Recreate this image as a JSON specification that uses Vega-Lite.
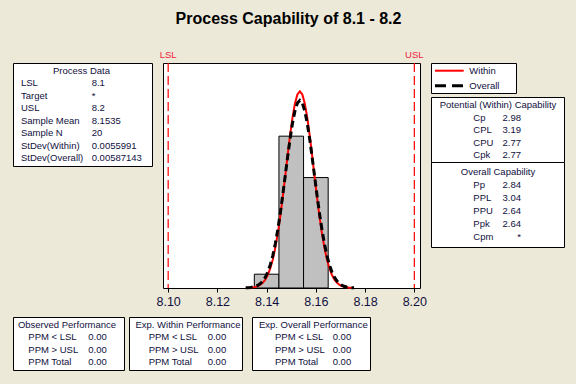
{
  "$schema": "https://vega.github.io/schema/vega-lite/v6.json",
  "background": "#ECE9D8",
  "padding": {"left": 12, "top": 10, "right": 13, "bottom": 16},
  "title": {"text": "Process Capability of 8.1 - 8.2", "fontSize": 16, "fontWeight": "bold", "font": "Liberation Sans", "color": "#000000", "anchor": "middle", "offset": 23},
  "datasets": {
    "hist": [
      {"start": 8.135, "end": 8.145, "count": 1},
      {"start": 8.145, "end": 8.155, "count": 11},
      {"start": 8.155, "end": 8.165, "count": 8}
    ],
    "curve": [
      {"x": 8.1315, "w": 0.006, "o": 0.012},
      {"x": 8.1325, "w": 0.013, "o": 0.022},
      {"x": 8.1335, "w": 0.024, "o": 0.042},
      {"x": 8.1345, "w": 0.046, "o": 0.072},
      {"x": 8.1355, "w": 0.082, "o": 0.124},
      {"x": 8.1365, "w": 0.142, "o": 0.206},
      {"x": 8.1375, "w": 0.240, "o": 0.332},
      {"x": 8.1385, "w": 0.394, "o": 0.520},
      {"x": 8.1395, "w": 0.626, "o": 0.792},
      {"x": 8.1405, "w": 0.962, "o": 1.172},
      {"x": 8.1415, "w": 1.434, "o": 1.684},
      {"x": 8.1425, "w": 2.068, "o": 2.350},
      {"x": 8.1435, "w": 2.892, "o": 3.188},
      {"x": 8.1445, "w": 3.916, "o": 4.198},
      {"x": 8.1455, "w": 5.134, "o": 5.372},
      {"x": 8.1465, "w": 6.522, "o": 6.678},
      {"x": 8.1475, "w": 8.026, "o": 8.062},
      {"x": 8.1485, "w": 9.564, "o": 9.458},
      {"x": 8.1495, "w": 11.040, "o": 10.776},
      {"x": 8.1505, "w": 12.344, "o": 11.928},
      {"x": 8.1515, "w": 13.370, "o": 12.824},
      {"x": 8.1525, "w": 14.024, "o": 13.394},
      {"x": 8.1535, "w": 14.250, "o": 13.590},
      {"x": 8.1545, "w": 14.024, "o": 13.394},
      {"x": 8.1555, "w": 13.370, "o": 12.824},
      {"x": 8.1565, "w": 12.344, "o": 11.928},
      {"x": 8.1575, "w": 11.040, "o": 10.776},
      {"x": 8.1585, "w": 9.564, "o": 9.458},
      {"x": 8.1595, "w": 8.026, "o": 8.062},
      {"x": 8.1605, "w": 6.522, "o": 6.678},
      {"x": 8.1615, "w": 5.134, "o": 5.372},
      {"x": 8.1625, "w": 3.916, "o": 4.198},
      {"x": 8.1635, "w": 2.892, "o": 3.188},
      {"x": 8.1645, "w": 2.068, "o": 2.350},
      {"x": 8.1655, "w": 1.434, "o": 1.684},
      {"x": 8.1665, "w": 0.962, "o": 1.172},
      {"x": 8.1675, "w": 0.626, "o": 0.792},
      {"x": 8.1685, "w": 0.394, "o": 0.520},
      {"x": 8.1695, "w": 0.240, "o": 0.332},
      {"x": 8.1705, "w": 0.142, "o": 0.206},
      {"x": 8.1715, "w": 0.082, "o": 0.124},
      {"x": 8.1725, "w": 0.046, "o": 0.072},
      {"x": 8.1735, "w": 0.024, "o": 0.042},
      {"x": 8.1745, "w": 0.013, "o": 0.022},
      {"x": 8.1755, "w": 0.006, "o": 0.012}
    ],
    "limits": [{"limit": "LSL", "x": 8.1}, {"limit": "USL", "x": 8.2}],
    "pd": [
      {"row": 0, "label": "Process Data", "value": ""},
      {"row": 1, "label": "LSL", "value": "8.1"},
      {"row": 2, "label": "Target", "value": "*"},
      {"row": 3, "label": "USL", "value": "8.2"},
      {"row": 4, "label": "Sample Mean", "value": "8.1535"},
      {"row": 5, "label": "Sample N", "value": "20"},
      {"row": 6, "label": "StDev(Within)", "value": "0.0055991"},
      {"row": 7, "label": "StDev(Overall)", "value": "0.00587143"}
    ],
    "pot": [
      {"row": 0, "label": "Potential (Within) Capability", "value": ""},
      {"row": 1, "label": "Cp", "value": "2.98"},
      {"row": 2, "label": "CPL", "value": "3.19"},
      {"row": 3, "label": "CPU", "value": "2.77"},
      {"row": 4, "label": "Cpk", "value": "2.77"}
    ],
    "ovr": [
      {"row": 0, "label": "Overall Capability", "value": ""},
      {"row": 1, "label": "Pp", "value": "2.84"},
      {"row": 2, "label": "PPL", "value": "3.04"},
      {"row": 3, "label": "PPU", "value": "2.64"},
      {"row": 4, "label": "Ppk", "value": "2.64"},
      {"row": 5, "label": "Cpm", "value": "*"}
    ],
    "obs": [
      {"row": 0, "label": "Observed Performance", "value": ""},
      {"row": 1, "label": "PPM < LSL", "value": "0.00"},
      {"row": 2, "label": "PPM > USL", "value": "0.00"},
      {"row": 3, "label": "PPM Total", "value": "0.00"}
    ],
    "wit": [
      {"row": 0, "label": "Exp. Within Performance", "value": ""},
      {"row": 1, "label": "PPM < LSL", "value": "0.00"},
      {"row": 2, "label": "PPM > USL", "value": "0.00"},
      {"row": 3, "label": "PPM Total", "value": "0.00"}
    ],
    "ovp": [
      {"row": 0, "label": "Exp. Overall Performance", "value": ""},
      {"row": 1, "label": "PPM < LSL", "value": "0.00"},
      {"row": 2, "label": "PPM > USL", "value": "0.00"},
      {"row": 3, "label": "PPM Total", "value": "0.00"}
    ],
    "leg": [{"row": 0, "series": "Within"}, {"row": 1, "series": "Overall"}]
  },
  "spacing": 8,
  "bounds": "full",
  "vconcat": [
    {
      "spacing": 11,
      "bounds": "flush",
      "hconcat": [
        {
          "width": 139, "height": 103,
          "data": {"name": "pd"},
          "encoding": {"y": {"field": "row", "type": "quantitative", "scale": {"domain": [-0.6426, 7.6305], "reverse": true, "nice": false, "zero": false}, "axis": null}},
          "layer": [
            {"transform": [{"filter": "datum.row == 0"}], "mark": {"type": "text", "align": "center"},
             "encoding": {"x": {"datum": 0.8557, "type": "quantitative", "scale": {"domain": [-0.11315, 1.8529], "nice": false, "zero": false}, "axis": null}, "text": {"field": "label"}}},
            {"transform": [{"filter": "datum.row > 0"}], "mark": {"type": "text", "align": "left"},
             "encoding": {"x": {"datum": 0, "type": "quantitative", "scale": {"domain": [-0.11315, 1.8529], "nice": false, "zero": false}, "axis": null}, "text": {"field": "label"}}},
            {"transform": [{"filter": "datum.row > 0"}], "mark": {"type": "text", "align": "left"},
             "encoding": {"x": {"datum": 1, "type": "quantitative", "scale": {"domain": [-0.11315, 1.8529], "nice": false, "zero": false}, "axis": null}, "text": {"field": "value"}}}
          ]
        },
        {
          "width": 257, "height": 225,
          "layer": [
            {"data": {"name": "hist"},
             "mark": {"type": "rect", "fill": "#C0C0C0", "stroke": "#000000", "strokeWidth": 1},
             "encoding": {
               "x": {"field": "start", "type": "quantitative",
                     "scale": {"domain": [8.0979, 8.2023], "nice": false, "zero": false},
                     "axis": {"title": null, "values": [8.10, 8.11, 8.12, 8.13, 8.14, 8.15, 8.16, 8.17, 8.18, 8.19, 8.20],
                              "labelExpr": "round(datum.value * 100) % 2 == 0 ? format(datum.value, '.2f') : ''",
                              "domain": false, "grid": false, "tickSize": 4, "tickColor": "#000000",
                              "labelFont": "Liberation Sans", "labelFontSize": 12.5, "labelColor": "#101040",
                              "labelPadding": 3, "labelFlush": false, "labelOverlap": false}},
               "x2": {"field": "end"},
               "y": {"field": "count", "type": "quantitative", "scale": {"domain": [0, 16.3], "nice": false, "zero": false}, "axis": null},
               "y2": {"datum": 0}
             }},
            {"data": {"name": "curve"},
             "mark": {"type": "line", "color": "#FF0000", "strokeWidth": 2},
             "encoding": {
               "x": {"field": "x", "type": "quantitative"},
               "y": {"field": "w", "type": "quantitative", "scale": {"domain": [0, 16.3], "nice": false, "zero": false}, "axis": null}
             }},
            {"data": {"name": "curve"},
             "mark": {"type": "line", "color": "#000000", "strokeWidth": 3, "strokeDash": [7, 4]},
             "encoding": {
               "x": {"field": "x", "type": "quantitative"},
               "y": {"field": "o", "type": "quantitative", "scale": {"domain": [0, 16.3], "nice": false, "zero": false}, "axis": null}
             }},
            {"data": {"name": "limits"},
             "mark": {"type": "rule", "color": "#FF0000", "strokeWidth": 1.2, "strokeDash": [9, 4]},
             "encoding": {"x": {"field": "x", "type": "quantitative"}}},
            {"data": {"name": "limits"},
             "mark": {"type": "text", "color": "#F01C3C", "dy": -8, "align": "center", "fontSize": 9.5},
             "encoding": {
               "x": {"field": "x", "type": "quantitative"},
               "y": {"datum": 16.3, "type": "quantitative"},
               "text": {"field": "limit"}
             }}
          ]
        },
        {
          "spacing": 4,
          "bounds": "flush",
          "vconcat": [
            {
              "width": 85, "height": 30,
              "data": {"name": "leg"},
              "encoding": {"y": {"field": "row", "type": "quantitative", "scale": {"domain": [-0.5133, 1.4867], "reverse": true, "nice": false, "zero": false}, "axis": null}},
              "layer": [
                {"transform": [{"filter": "datum.series == 'Within'"}], "mark": {"type": "rule", "color": "#FF0000", "strokeWidth": 2},
                 "encoding": {"x": {"datum": 0, "type": "quantitative", "scale": {"domain": [-0.13937, 2.8223], "nice": false, "zero": false}, "axis": null}, "x2": {"datum": 1}}},
                {"transform": [{"filter": "datum.series == 'Overall'"}], "mark": {"type": "rule", "color": "#000000", "strokeWidth": 3, "strokeDash": [11, 6]},
                 "encoding": {"x": {"datum": 0, "type": "quantitative", "scale": {"domain": [-0.13937, 2.8223], "nice": false, "zero": false}, "axis": null}, "x2": {"datum": 1}}},
                {"mark": {"type": "text", "align": "left"},
                 "encoding": {"x": {"datum": 1.1951, "type": "quantitative", "scale": {"domain": [-0.13937, 2.8223], "nice": false, "zero": false}, "axis": null}, "text": {"field": "series"}}}
              ]
            },
            {
              "spacing": 0,
              "bounds": "flush",
              "vconcat": [
                {
                  "width": 133, "height": 65,
                  "data": {"name": "pot"},
                  "encoding": {"y": {"field": "row", "type": "quantitative", "scale": {"domain": [-0.64, 4.56], "reverse": true, "nice": false, "zero": false}, "axis": null}},
                  "layer": [
                    {"transform": [{"filter": "datum.row == 0"}], "mark": {"type": "text", "align": "center"},
                     "encoding": {"x": {"datum": 0.5178, "type": "quantitative", "scale": {"domain": [-0.88679, 1.90147], "nice": false, "zero": false}, "axis": null}, "text": {"field": "label"}}},
                    {"transform": [{"filter": "datum.row > 0"}], "mark": {"type": "text", "align": "left"},
                     "encoding": {"x": {"datum": 0, "type": "quantitative", "scale": {"domain": [-0.88679, 1.90147], "nice": false, "zero": false}, "axis": null}, "text": {"field": "label"}}},
                    {"transform": [{"filter": "datum.row > 0"}], "mark": {"type": "text", "align": "right"},
                     "encoding": {"x": {"datum": 1, "type": "quantitative", "scale": {"domain": [-0.88679, 1.90147], "nice": false, "zero": false}, "axis": null}, "text": {"field": "value"}}}
                  ]
                },
                {
                  "width": 133, "height": 85,
                  "data": {"name": "ovr"},
                  "encoding": {"y": {"field": "row", "type": "quantitative", "scale": {"domain": [-0.8108, 5.7529], "reverse": true, "nice": false, "zero": false}, "axis": null}},
                  "layer": [
                    {"transform": [{"filter": "datum.row == 0"}], "mark": {"type": "text", "align": "center"},
                     "encoding": {"x": {"datum": 0.5178, "type": "quantitative", "scale": {"domain": [-0.88679, 1.90147], "nice": false, "zero": false}, "axis": null}, "text": {"field": "label"}}},
                    {"transform": [{"filter": "datum.row > 0"}], "mark": {"type": "text", "align": "left"},
                     "encoding": {"x": {"datum": 0, "type": "quantitative", "scale": {"domain": [-0.88679, 1.90147], "nice": false, "zero": false}, "axis": null}, "text": {"field": "label"}}},
                    {"transform": [{"filter": "datum.row > 0"}], "mark": {"type": "text", "align": "right"},
                     "encoding": {"x": {"datum": 1, "type": "quantitative", "scale": {"domain": [-0.88679, 1.90147], "nice": false, "zero": false}, "axis": null}, "text": {"field": "value"}}}
                  ]
                }
              ]
            }
          ]
        }
      ]
    },
    {
      "spacing": 5,
      "bounds": "flush",
      "hconcat": [
        {
          "width": 111, "height": 53,
          "data": {"name": "obs"},
          "encoding": {"y": {"field": "row", "type": "quantitative", "scale": {"domain": [-0.6135, 3.6096], "reverse": true, "nice": false, "zero": false}, "axis": null}},
          "layer": [
            {"transform": [{"filter": "datum.row == 0"}], "mark": {"type": "text", "align": "center"},
             "encoding": {"x": {"datum": 0.645, "type": "quantitative", "scale": {"domain": [-0.255, 1.595], "nice": false, "zero": false}, "axis": null}, "text": {"field": "label"}}},
            {"transform": [{"filter": "datum.row > 0"}], "mark": {"type": "text", "align": "left"},
             "encoding": {"x": {"datum": 0, "type": "quantitative", "scale": {"domain": [-0.255, 1.595], "nice": false, "zero": false}, "axis": null}, "text": {"field": "label"}}},
            {"transform": [{"filter": "datum.row > 0"}], "mark": {"type": "text", "align": "left"},
             "encoding": {"x": {"datum": 1, "type": "quantitative", "scale": {"domain": [-0.255, 1.595], "nice": false, "zero": false}, "axis": null}, "text": {"field": "value"}}}
          ]
        },
        {
          "spacing": 10,
          "bounds": "flush",
          "hconcat": [
            {
              "width": 113, "height": 53,
              "data": {"name": "wit"},
              "encoding": {"y": {"field": "row", "type": "quantitative", "scale": {"domain": [-0.6135, 3.6096], "reverse": true, "nice": false, "zero": false}, "axis": null}},
              "layer": [
                {"transform": [{"filter": "datum.row == 0"}], "mark": {"type": "text", "align": "center"},
                 "encoding": {"x": {"datum": 0.6661, "type": "quantitative", "scale": {"domain": [-0.3339, 1.58136], "nice": false, "zero": false}, "axis": null}, "text": {"field": "label"}}},
                {"transform": [{"filter": "datum.row > 0"}], "mark": {"type": "text", "align": "left"},
                 "encoding": {"x": {"datum": 0, "type": "quantitative", "scale": {"domain": [-0.3339, 1.58136], "nice": false, "zero": false}, "axis": null}, "text": {"field": "label"}}},
                {"transform": [{"filter": "datum.row > 0"}], "mark": {"type": "text", "align": "left"},
                 "encoding": {"x": {"datum": 1, "type": "quantitative", "scale": {"domain": [-0.3339, 1.58136], "nice": false, "zero": false}, "axis": null}, "text": {"field": "value"}}}
              ]
            },
            {
              "width": 118, "height": 53,
              "data": {"name": "ovp"},
              "encoding": {"y": {"field": "row", "type": "quantitative", "scale": {"domain": [-0.6135, 3.6096], "reverse": true, "nice": false, "zero": false}, "axis": null}},
              "layer": [
                {"transform": [{"filter": "datum.row == 0"}], "mark": {"type": "text", "align": "center"},
                 "encoding": {"x": {"datum": 0.6638, "type": "quantitative", "scale": {"domain": [-0.39861, 1.64645], "nice": false, "zero": false}, "axis": null}, "text": {"field": "label"}}},
                {"transform": [{"filter": "datum.row > 0"}], "mark": {"type": "text", "align": "left"},
                 "encoding": {"x": {"datum": 0, "type": "quantitative", "scale": {"domain": [-0.39861, 1.64645], "nice": false, "zero": false}, "axis": null}, "text": {"field": "label"}}},
                {"transform": [{"filter": "datum.row > 0"}], "mark": {"type": "text", "align": "left"},
                 "encoding": {"x": {"datum": 1, "type": "quantitative", "scale": {"domain": [-0.39861, 1.64645], "nice": false, "zero": false}, "axis": null}, "text": {"field": "value"}}}
              ]
            }
          ]
        }
      ]
    }
  ],
  "config": {
    "font": "Liberation Sans",
    "view": {"stroke": "#000000", "fill": "#FFFFFF", "strokeWidth": 1},
    "text": {"font": "Liberation Sans", "fontSize": 9.5, "color": "#101040", "baseline": "middle"}
  }
}
